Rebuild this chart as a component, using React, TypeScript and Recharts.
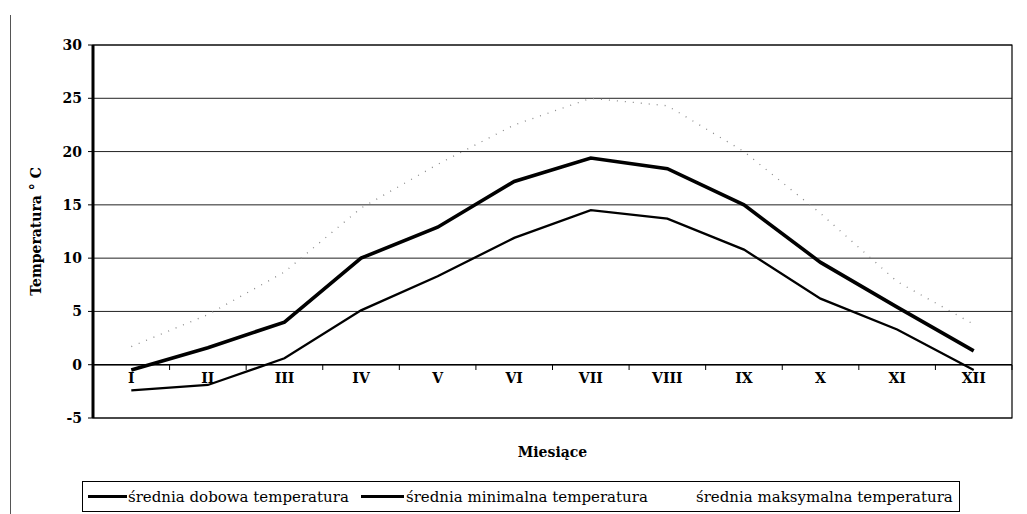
import React from 'react';
import {
  LineChart,
  Line,
  XAxis,
  YAxis,
  CartesianGrid,
  ReferenceLine,
  ReferenceArea,
} from 'recharts';

// Miesiące (rzymskie) i odczytane wartości temperatur
const months = ['I', 'II', 'III', 'IV', 'V', 'VI', 'VII', 'VIII', 'IX', 'X', 'XI', 'XII'];
const dobowa = [-0.5, 1.6, 4.0, 10.0, 12.9, 17.2, 19.4, 18.4, 15.0, 9.6, 5.4, 1.3];
const minimalna = [-2.4, -1.9, 0.6, 5.1, 8.3, 11.9, 14.5, 13.7, 10.8, 6.2, 3.3, -0.5];
const maksymalna = [1.7, 4.7, 8.7, 14.7, 18.8, 22.5, 25.0, 24.3, 20.0, 14.2, 7.8, 3.8];
const yTicks = [-5, 0, 5, 10, 15, 20, 25, 30];

const seriesNames = [
  'średnia dobowa temperatura',
  'średnia minimalna temperatura',
  'średnia maksymalna temperatura',
];

const data = months.map((m, i) => ({
  month: m,
  dobowa: dobowa[i],
  minimalna: minimalna[i],
  maksymalna: maksymalna[i],
}));

const FONT = '"DejaVu Serif", "Liberation Serif", serif';

// etykiety miesięcy rysowane tuż pod linią zera, znaczniki między kategoriami
const MonthTick = (props: any) => {
  const { x, y, payload } = props;
  const half = payload?.offset ?? 38;
  const zeroY = y - 61;
  return (
    <g>
      <line x1={x + half} y1={zeroY} x2={x + half} y2={zeroY + 5} stroke="#000" strokeWidth={1} />
      <text
        x={x}
        y={y - 48}
        dy="0.35em"
        textAnchor="middle"
        fontFamily={FONT}
        fontWeight="bold"
        fontSize={14}
        fill="#000"
      >
        {payload.value}
      </text>
    </g>
  );
};

export default function App() {
  return (
    <div
      style={{
        position: 'absolute',
        left: 0,
        top: 0,
        width: 1027,
        height: 514,
        background: '#fff',
        fontFamily: FONT,
      }}
    >
      <div style={{ position: 'absolute', left: 10, top: 15, width: 1, height: 499, background: '#555' }} />
      <LineChart
        width={1027}
        height={514}
        data={data}
        margin={{ top: 45, right: 15, left: 0, bottom: 51 }}
      >
        <CartesianGrid vertical={false} stroke="#222" strokeWidth={1} />
        <ReferenceArea y1={-5} y2={30} fill="none" stroke="#000" strokeWidth={1.2} ifOverflow="visible" />
        <XAxis
          dataKey="month"
          scale="band"
          height={45}
          axisLine={false}
          tickLine={false}
          tick={<MonthTick />}
          interval={0}
          label={{
            value: 'Miesiące',
            position: 'insideBottom',
            offset: 6,
            style: { fontFamily: FONT, fontWeight: 'bold', fontSize: 14, fill: '#000' },
          }}
        />
        <YAxis
          width={93}
          domain={[-5, 30]}
          ticks={yTicks}
          interval={0}
          tickSize={5}
          tickMargin={6}
          axisLine={{ stroke: '#000', strokeWidth: 3 }}
          tickLine={{ stroke: '#000' }}
          tick={{ fontFamily: FONT, fontWeight: 'bold', fontSize: 14, fill: '#000' }}
          label={{
            value: 'Temperatura ° C',
            angle: -90,
            position: 'insideLeft',
            offset: 36,
            style: { textAnchor: 'middle', fontFamily: FONT, fontWeight: 'bold', fontSize: 14, fill: '#000' },
          }}
        />
        <ReferenceLine y={0} stroke="#000" strokeWidth={1.5} />
        <Line
          type="linear"
          dataKey="maksymalna"
          name={seriesNames[2]}
          stroke="#8a8a8a"
          strokeWidth={1.3}
          strokeDasharray="1 7"
          dot={false}
          isAnimationActive={false}
        />
        <Line
          type="linear"
          dataKey="minimalna"
          name={seriesNames[1]}
          stroke="#000"
          strokeWidth={2.3}
          dot={false}
          isAnimationActive={false}
        />
        <Line
          type="linear"
          dataKey="dobowa"
          name={seriesNames[0]}
          stroke="#000"
          strokeWidth={3.6}
          dot={false}
          isAnimationActive={false}
        />
      </LineChart>
      {/* legenda w ramce pod wykresem */}
      <div
        style={{
          position: 'absolute',
          left: 82,
          top: 481,
          width: 878,
          height: 31,
          border: '1px solid #000',
          boxSizing: 'border-box',
          display: 'flex',
          alignItems: 'center',
          fontSize: 15,
          color: '#000',
          whiteSpace: 'nowrap',
        }}
      >
        <span style={{ display: 'inline-block', width: 39, height: 3.5, background: '#000', marginLeft: 5 }} />
        <span style={{ marginLeft: 1, width: 230 }}>{seriesNames[0]}</span>
        <span style={{ display: 'inline-block', width: 43, height: 2.5, background: '#000', marginLeft: 3 }} />
        <span style={{ marginLeft: 2, width: 290 }}>{seriesNames[1]}</span>
        <span style={{ marginLeft: 0 }}>{seriesNames[2]}</span>
      </div>
    </div>
  );
}
